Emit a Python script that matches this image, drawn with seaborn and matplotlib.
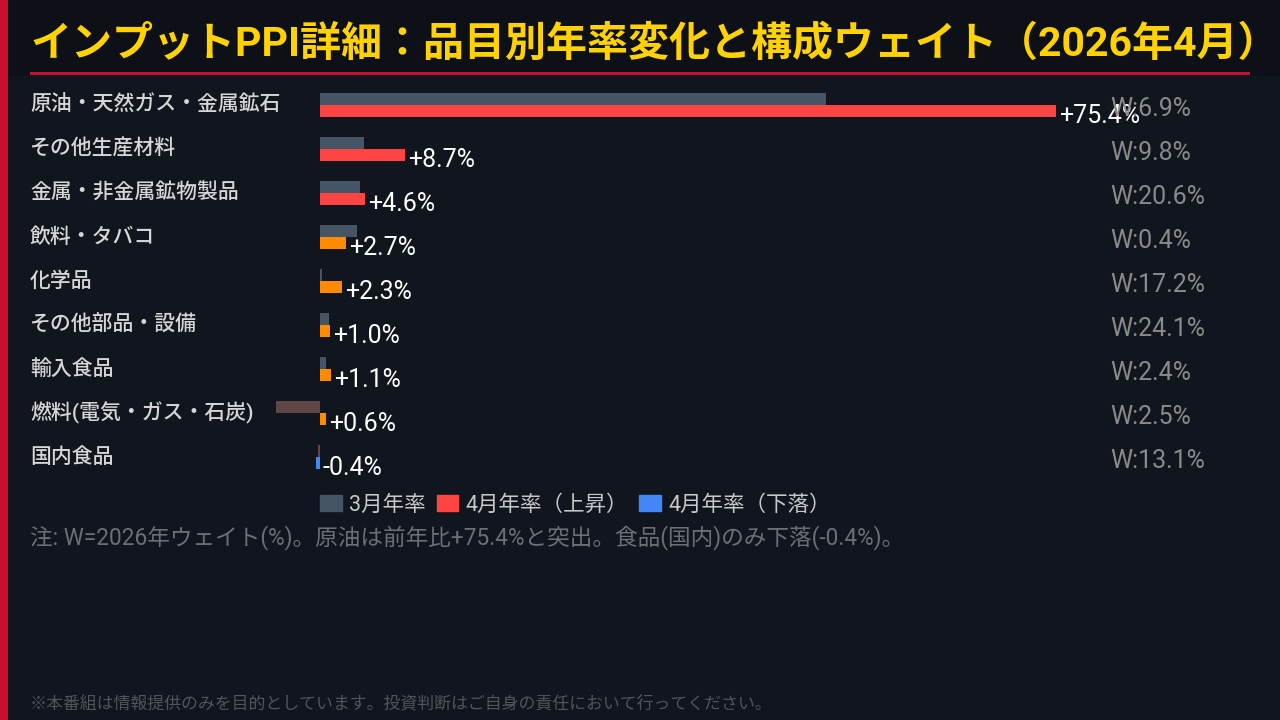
import matplotlib
matplotlib.use("Agg")
import matplotlib.pyplot as plt
import matplotlib.patches as mpatches
import seaborn as sns
import pandas as pd

# data
categories = ["原油・天然ガス・金属鉱石", "その他生産材料", "金属・非金属鉱物製品", "飲料・タバコ",
              "化学品", "その他部品・設備", "輸入食品", "燃料(電気・ガス・石炭)", "国内食品"]
march_yoy = [51.8, 4.5, 4.1, 3.8, 0.2, 0.9, 0.6, -4.5, -0.2]
april_yoy = [75.4, 8.7, 4.6, 2.7, 2.3, 1.0, 1.1, 0.6, -0.4]
weights = [6.9, 9.8, 20.6, 0.4, 17.2, 24.1, 2.4, 2.5, 13.1]
series_names = ["3月年率", "4月年率"]

BG = "#11151e"
TITLE_BG = "#0d1017"

sns.set_theme(style="dark")
plt.rcParams["font.family"] = ["Roboto", "Noto Sans CJK JP", "DejaVu Sans"]

df = pd.DataFrame({
    "cat": categories * 2,
    "series": [series_names[0]] * len(categories) + [series_names[1]] * len(categories),
    "value": march_yoy + april_yoy,
})

fig = plt.figure(figsize=(12.8, 7.2), dpi=100)
fig.patch.set_facecolor(BG)
fig.patches.append(mpatches.Rectangle((0, 1 - 76 / 720), 1, 76 / 720, transform=fig.transFigure,
                                      facecolor=TITLE_BG, edgecolor="none", zorder=0))
fig.patches.append(mpatches.Rectangle((0, 0), 8 / 1280, 1, transform=fig.transFigure,
                                      facecolor="#c8102e", edgecolor="none", zorder=1))
fig.patches.append(mpatches.Rectangle((30 / 1280, 1 - 75 / 720), 1220 / 1280, 3.5 / 720,
                                      transform=fig.transFigure, facecolor="#c8102e",
                                      edgecolor="none", zorder=1))

fig.text(30 / 1280, 1 - 44 / 720, "インプットPPI詳細：品目別年率変化と構成ウェイト（2026年4月）",
         color="#ffd200", fontsize=29.5, fontweight="bold", ha="left", va="center")

ax = fig.add_axes([30 / 1280, 1 - 479 / 720, 1220 / 1280, 396 / 720])
ax.set_facecolor("none")
sns.barplot(data=df, y="cat", x="value", hue="series", orient="h", dodge=True,
            width=0.56, gap=0.08, legend=False, ax=ax, order=categories)

px = 9.76  # pixels per percentage point
ax.set_xlim((30 - 320) / px, (1250 - 320) / px)
ax.set_ylim(8.5, -0.5)

march_bars, april_bars = ax.containers[0], ax.containers[1]
for bar, v in zip(march_bars, march_yoy):
    bar.set_facecolor("#465565" if v >= 0 else "#614646")
    bar.set_edgecolor("none")
for bar, v in zip(april_bars, april_yoy):
    if v < 0:
        c = "#4287f5"
    elif v >= 4:
        c = "#ff4444"
    else:
        c = "#ff8c00"
    bar.set_facecolor(c)
    bar.set_edgecolor("none")

for i, (cat, v, w) in enumerate(zip(categories, april_yoy, weights)):
    ax.text(0.0, i, cat, transform=ax.get_yaxis_transform(), ha="left", va="center",
            color="#d6d6d6", fontsize=15, fontweight="medium")
    ax.text(max(v, 0) + 0.3, i + 0.26, f"{v:+.1f}%", ha="left", va="center",
            color="white", fontsize=18)
    ax.text((1110 - 30) / 1220, i + 0.08, f"W:{w:.1f}%", transform=ax.get_yaxis_transform(),
            ha="left", va="center", color="#8a8a8a", fontsize=18)

ax.set_xlabel("")
ax.set_ylabel("")
ax.set_xticks([])
ax.set_yticks([])
for s in ax.spines.values():
    s.set_visible(False)

handles = [mpatches.Patch(color="#465565", label="3月年率"),
           mpatches.Patch(color="#ff4444", label="4月年率（上昇）"),
           mpatches.Patch(color="#4287f5", label="4月年率（下落）")]
leg = fig.legend(handles=handles, loc="center left", bbox_to_anchor=(301 / 1280, 1 - 505 / 720),
                 ncol=3, frameon=False, fontsize=15.5, handlelength=1.0, handleheight=0.7,
                 handletextpad=0.35, columnspacing=0.5)
for t in leg.get_texts():
    t.set_color("#c8c8c8")

fig.text(30 / 1280, 1 - 538 / 720,
         "注: W=2026年ウェイト(%)。原油は前年比+75.4%と突出。食品(国内)のみ下落(-0.4%)。",
         color="#6c6f75", fontsize=16.3, ha="left", va="center")
fig.text(30 / 1280, 1 - 703 / 720,
         "※本番組は情報提供のみを目的としています。投資判断はご自身の責任において行ってください。",
         color="#50555c", fontsize=12.2, ha="left", va="center")

fig.savefig("out.png", dpi=100, facecolor=BG)
